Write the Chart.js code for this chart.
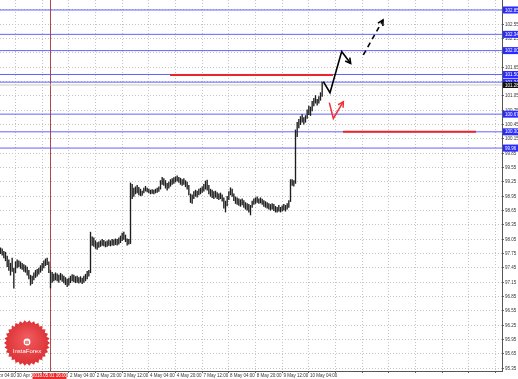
<!DOCTYPE html>
<html>
<head>
<meta charset="utf-8">
<title>Chart</title>
<script src="https://cdn.jsdelivr.net/npm/chart.js@4.4.0/dist/chart.umd.min.js"></script>
<style>
  html, body { margin: 0; padding: 0; background: #fff; }
  #wrap { width: 518px; height: 379px; }
</style>
</head>
<body>
<div id="wrap"><canvas id="chart" width="518" height="379"></canvas></div>
<script>
// H1 candles (index 0 = first bar on the left)
const highs = [
  97.87, 97.85, 97.80, 97.78, 97.70, 97.62, 97.55, 97.66, 97.45, 97.58,
  97.62, 97.60, 97.58, 97.55, 97.52, 97.50, 97.47, 97.40, 97.30, 97.28,
  97.35, 97.40, 97.42, 97.45, 97.50, 97.55, 97.60, 97.64, 97.66, 97.58,
  97.40, 97.36, 97.32, 97.35, 97.33, 97.30, 97.34, 97.31, 97.28, 97.25,
  97.22, 97.24, 97.28, 97.31, 97.30, 97.27, 97.28, 97.25, 97.27, 97.24,
  97.28, 97.32, 97.38, 97.40, 98.20, 98.10, 98.08, 98.02, 97.98, 98.00,
  98.02, 98.05, 98.03, 98.00, 98.02, 98.04, 98.02, 98.05, 98.04, 98.06,
  98.05, 98.08, 98.12, 98.18, 98.20, 98.14, 98.06, 98.05, 99.23, 99.20,
  99.12, 99.15, 99.18, 99.14, 99.10, 99.06, 99.12, 99.16, 99.12, 99.10,
  99.08, 99.09, 99.08, 99.10, 99.12, 99.15, 99.28, 99.35, 99.32, 99.28,
  99.22, 99.25, 99.30, 99.32, 99.34, 99.36, 99.38, 99.35, 99.33, 99.30,
  99.32, 99.28, 99.25, 99.18, 99.00, 98.98, 99.05, 99.08, 99.06, 99.10,
  99.12, 99.15, 99.20, 99.27, 99.29, 99.18, 99.10, 99.08, 99.05, 99.06,
  99.03, 99.00, 99.02, 98.98, 98.92, 98.85, 98.95, 99.05, 99.13, 99.10,
  99.00, 98.94, 98.92, 98.90, 98.88, 98.90, 98.86, 98.82, 98.80, 98.78,
  98.76, 98.85, 98.90, 98.92, 98.94, 98.90, 98.92, 98.89, 98.86, 98.84,
  98.82, 98.80, 98.78, 98.80, 98.78, 98.74, 98.72, 98.76, 98.72, 98.75,
  98.78, 98.76, 98.80, 98.86, 99.30, 99.30, 99.28, 100.34, 100.50, 100.56,
  100.62, 100.66, 100.60, 100.64, 100.76, 100.84, 100.82, 100.94, 101.00, 101.06,
  100.98, 101.04, 101.12, 101.34
];
const lows = [
  97.75, 97.72, 97.66, 97.60, 97.48, 97.40, 97.30, 97.38, 97.03, 97.35,
  97.45, 97.48, 97.44, 97.42, 97.38, 97.36, 97.30, 97.22, 97.09, 97.12,
  97.20, 97.25, 97.28, 97.32, 97.36, 97.40, 97.45, 97.50, 97.52, 97.35,
  97.03, 97.15, 97.18, 97.20, 97.18, 97.15, 97.20, 97.17, 97.14, 97.10,
  97.06, 97.09, 97.14, 97.18, 97.16, 97.14, 97.15, 97.13, 97.15, 97.12,
  97.15, 97.18, 97.22, 97.28, 97.35, 97.92, 97.90, 97.86, 97.84, 97.88,
  97.90, 97.92, 97.91, 97.89, 97.90, 97.92, 97.91, 97.93, 97.92, 97.94,
  97.93, 97.95, 97.98, 98.02, 98.05, 98.00, 97.93, 97.95, 97.96, 98.90,
  98.95, 99.00, 99.02, 98.98, 98.96, 98.97, 99.02, 99.06, 99.04, 99.02,
  99.00, 99.01, 99.00, 99.02, 99.03, 99.05, 99.10, 99.20, 99.18, 99.12,
  99.08, 99.12, 99.16, 99.20, 99.22, 99.25, 99.27, 99.24, 99.20, 99.18,
  99.20, 99.15, 99.10, 98.98, 98.82, 98.80, 98.90, 98.95, 98.93, 98.98,
  99.00, 99.03, 99.06, 99.10, 99.08, 99.00, 98.95, 98.92, 98.90, 98.93,
  98.90, 98.88, 98.90, 98.85, 98.70, 98.62, 98.75, 98.88, 98.98, 98.95,
  98.86, 98.80, 98.78, 98.76, 98.74, 98.77, 98.72, 98.68, 98.66, 98.62,
  98.56, 98.72, 98.78, 98.80, 98.82, 98.80, 98.81, 98.78, 98.74, 98.72,
  98.70, 98.68, 98.66, 98.68, 98.65, 98.62, 98.62, 98.64, 98.62, 98.64,
  98.66, 98.64, 98.68, 98.72, 98.84, 99.18, 99.16, 99.22, 100.20, 100.38,
  100.45, 100.50, 100.46, 100.50, 100.58, 100.66, 100.64, 100.74, 100.84, 100.90,
  100.86, 100.90, 100.96, 101.04
];

// time axis: one label every 16 bars
const xTickIndex = [-7, 9, 25, 41, 57, 73, 89, 105, 121, 137, 153, 169, 185,
                    201, 217, 233, 249, 265, 281, 297];
const xTickLabels = ['30 Apr 04:00', '30 Apr 20:00', '1 May 12:00', '2 May 04:00',
  '2 May 20:00', '3 May 12:00', '4 May 04:00', '4 May 20:00', '7 May 12:00',
  '8 May 04:00', '8 May 20:00', '9 May 12:00', '10 May 04:00'];
const yTickValues = [95.35, 95.65, 95.95, 96.25, 96.55, 96.85, 97.15, 97.45, 97.75,
  98.05, 98.35, 98.65, 98.95, 99.25, 99.55, 99.85, 100.15, 100.45, 100.75, 101.05,
  101.35, 101.65, 101.95, 102.25, 102.55, 102.85];

// levels and drawings
const blueLevels = [102.85, 102.34, 102.00, 101.50, 101.34, 100.67, 100.30, 99.96];
const currentPrice = 101.28;
const redFrom = [101.7, 205.5];
const redTo = [199.5, 285.3];
const redPrice = [101.49, 100.30];
const blackPathX = [193.7, 197.7, 204.7, 210.1];
const blackPathY = [101.35, 101.12, 101.98, 101.73];
const dashPathX = [217.7, 229.5];
const dashPathY = [101.91, 102.64];
const redPathX = [197.3, 199.7, 205.7];
const redPathY = [100.91, 100.58, 100.93];
const crossIndex = 29.4;
const crossLabel = '2018.05.01 16:00';

const X_MIN = -0.3, X_MAX = 300.9;
const Y_MIN = 95.294, Y_MAX = 103.059;
const FONT = '"Liberation Sans", Arial, sans-serif';

function toPoints(xs, ys) {
    return xs.map((x, i) => ({ x: x, y: ys[i] }));
}

const datasets = [];

blueLevels.forEach(function(v) {
    datasets.push({
        type: 'line',
        data: [{ x: X_MIN, y: v }, { x: X_MAX, y: v }],
        borderColor: 'rgba(70,70,255,0.85)',
        borderWidth: 1,
        pointRadius: 0,
        order: 10
    });
});

datasets.push({
    type: 'line',
    data: [{ x: X_MIN, y: currentPrice }, { x: X_MAX, y: currentPrice }],
    borderColor: '#c8c8c8',
    borderWidth: 1,
    pointRadius: 0,
    order: 11
});

datasets.push({
    type: 'bar',
    data: highs.map((h, i) => ({ x: i, y: [lows[i], h] })),
    backgroundColor: '#1e1e1e',
    borderWidth: 0,
    barThickness: 0.7,
    grouped: false,
    order: 5
});

redPrice.forEach(function(p, i) {
    datasets.push({
        type: 'line',
        data: [{ x: redFrom[i], y: p }, { x: redTo[i], y: p }],
        borderColor: '#e8262b',
        borderWidth: 2,
        pointRadius: 0,
        order: 2
    });
});

datasets.push({
    type: 'line',
    data: toPoints(blackPathX, blackPathY),
    borderColor: '#000', borderWidth: 1.6, pointRadius: 0, tension: 0, order: 1
});
datasets.push({
    type: 'line',
    data: toPoints(dashPathX, dashPathY),
    borderColor: '#000', borderWidth: 1.6, borderDash: [5, 4], pointRadius: 0, order: 1
});
datasets.push({
    type: 'line',
    data: toPoints(redPathX, redPathY),
    borderColor: '#f03035', borderWidth: 1.5, pointRadius: 0, tension: 0, order: 1
});

function arrowHead(ctx, x1, y1, x2, y2, len) {
    const a = Math.atan2(y2 - y1, x2 - x1);
    ctx.beginPath();
    ctx.moveTo(x2 - len * Math.cos(a - 0.5), y2 - len * Math.sin(a - 0.5));
    ctx.lineTo(x2, y2);
    ctx.lineTo(x2 - len * Math.cos(a + 0.5), y2 - len * Math.sin(a + 0.5));
    ctx.stroke();
}

const overlay = {
    id: 'overlay',
    beforeDatasetsDraw(chart) {
        const { ctx, chartArea, scales: { x } } = chart;
        const px = Math.round(x.getPixelForValue(crossIndex)) + 0.5;
        ctx.save();
        ctx.strokeStyle = '#b04a4a';
        ctx.lineWidth = 1;
        ctx.beginPath();
        ctx.moveTo(px, chartArea.top);
        ctx.lineTo(px, chartArea.bottom);
        ctx.stroke();
        ctx.restore();
    },
    afterDraw(chart) {
        const { ctx, chartArea, scales: { x, y } } = chart;
        ctx.save();

        // arrow heads
        ctx.lineWidth = 1.6;
        ctx.strokeStyle = '#000';
        let n = blackPathX.length;
        arrowHead(ctx, x.getPixelForValue(blackPathX[n - 2]), y.getPixelForValue(blackPathY[n - 2]),
            x.getPixelForValue(blackPathX[n - 1]), y.getPixelForValue(blackPathY[n - 1]), 6);
        n = dashPathX.length;
        arrowHead(ctx, x.getPixelForValue(dashPathX[n - 2]), y.getPixelForValue(dashPathY[n - 2]),
            x.getPixelForValue(dashPathX[n - 1]), y.getPixelForValue(dashPathY[n - 1]), 6);
        ctx.strokeStyle = '#f03035';
        ctx.lineWidth = 1.5;
        n = redPathX.length;
        arrowHead(ctx, x.getPixelForValue(redPathX[n - 2]), y.getPixelForValue(redPathY[n - 2]),
            x.getPixelForValue(redPathX[n - 1]), y.getPixelForValue(redPathY[n - 1]), 6);

        // price boxes on the right scale
        ctx.font = '4.5px ' + FONT;
        ctx.textBaseline = 'middle';
        ctx.textAlign = 'left';
        blueLevels.forEach(function(v) {
            const py = y.getPixelForValue(v);
            ctx.fillStyle = '#2b2bff';
            ctx.fillRect(chartArea.right + 1, py - 3.5, 16, 7);
            ctx.fillStyle = '#fff';
            ctx.fillText(v.toFixed(2), chartArea.right + 3, py + 0.3);
        });
        const cp = y.getPixelForValue(currentPrice);
        ctx.fillStyle = '#111';
        ctx.fillRect(chartArea.right + 1, cp - 3, 16, 6);
        ctx.fillStyle = '#fff';
        ctx.fillText(currentPrice.toFixed(2), chartArea.right + 3, cp + 0.3);

        // crosshair time box
        const cx = x.getPixelForValue(crossIndex);
        ctx.fillStyle = '#ee2a2a';
        ctx.fillRect(cx - 17, chartArea.bottom + 2, 34, 6);
        ctx.fillStyle = '#fff';
        ctx.textAlign = 'center';
        ctx.fillText(crossLabel, cx, chartArea.bottom + 5.2);

        // InstaForex badge
        const lx = chartArea.left + 27, ly = chartArea.bottom - 28;
        const teeth = 30;
        ctx.beginPath();
        for (let k = 0; k < teeth * 2; k++) {
            const r = k % 2 ? 20.5 : 23;
            const ang = k * Math.PI / teeth;
            ctx.lineTo(lx + r * Math.cos(ang), ly + r * Math.sin(ang));
        }
        ctx.closePath();
        const grad = ctx.createRadialGradient(lx, ly - 6, 2, lx, ly, 23);
        grad.addColorStop(0, '#f0585b');
        grad.addColorStop(1, '#dc3236');
        ctx.fillStyle = grad;
        ctx.fill();
        ctx.fillStyle = '#fff';
        ctx.beginPath();
        ctx.arc(lx, ly - 1, 3.4, 0, Math.PI * 2);
        ctx.fill();
        ctx.fillStyle = '#e03a3e';
        ctx.fillRect(lx - 1.6, ly - 2.2, 3.2, 3.2);
        ctx.fillStyle = '#fff';
        ctx.fillRect(lx - 0.4, ly - 2.2, 0.8, 3.2);
        ctx.font = '6px ' + FONT;
        ctx.textAlign = 'center';
        ctx.fillText('InstaForex', lx, ly + 8.5);

        ctx.restore();
    }
};

new Chart(document.getElementById('chart').getContext('2d'), {
    type: 'bar',
    data: { datasets: datasets },
    options: {
        responsive: false,
        animation: false,
        devicePixelRatio: 1,
        layout: { padding: 0 },
        plugins: {
            legend: { display: false },
            tooltip: { enabled: false }
        },
        scales: {
            x: {
                type: 'linear',
                position: 'bottom',
                min: X_MIN,
                max: X_MAX,
                bounds: 'data',
                offset: false,
                grid: { offset: false, color: '#c4c4c4', tickLength: 2, tickColor: '#666' },
                border: { color: '#555', dash: [1, 2] },
                afterBuildTicks: function(scale) {
                    scale.ticks = xTickIndex.map(v => ({ value: v }));
                },
                afterFit: function(scale) {
                    scale.height = 8;
                    scale.paddingLeft = 0;
                    scale.paddingRight = 0;
                },
                ticks: {
                    autoSkip: false,
                    maxRotation: 0,
                    align: 'start',
                    padding: 0,
                    color: '#333',
                    font: { family: FONT, size: 4.5 },
                    callback: function(value) {
                        const k = xTickIndex.indexOf(value);
                        return xTickLabels[k] ? ' ' + xTickLabels[k] : '';
                    }
                }
            },
            y: {
                type: 'linear',
                position: 'right',
                min: Y_MIN,
                max: Y_MAX,
                bounds: 'data',
                beginAtZero: false,
                grid: { color: '#c4c4c4', tickLength: 2, tickColor: '#666' },
                border: { color: '#555', dash: [1, 2] },
                afterBuildTicks: function(scale) {
                    scale.ticks = yTickValues.map(v => ({ value: v }));
                },
                afterFit: function(scale) {
                    scale.width = 16;
                    scale.paddingTop = 0;
                    scale.paddingBottom = 0;
                },
                ticks: {
                    autoSkip: false,
                    padding: 1,
                    color: '#333',
                    font: { family: FONT, size: 4.5 },
                    callback: function(value) {
                        return value.toFixed(2);
                    }
                }
            }
        }
    },
    plugins: [overlay]
});
</script>
</body>
</html>
